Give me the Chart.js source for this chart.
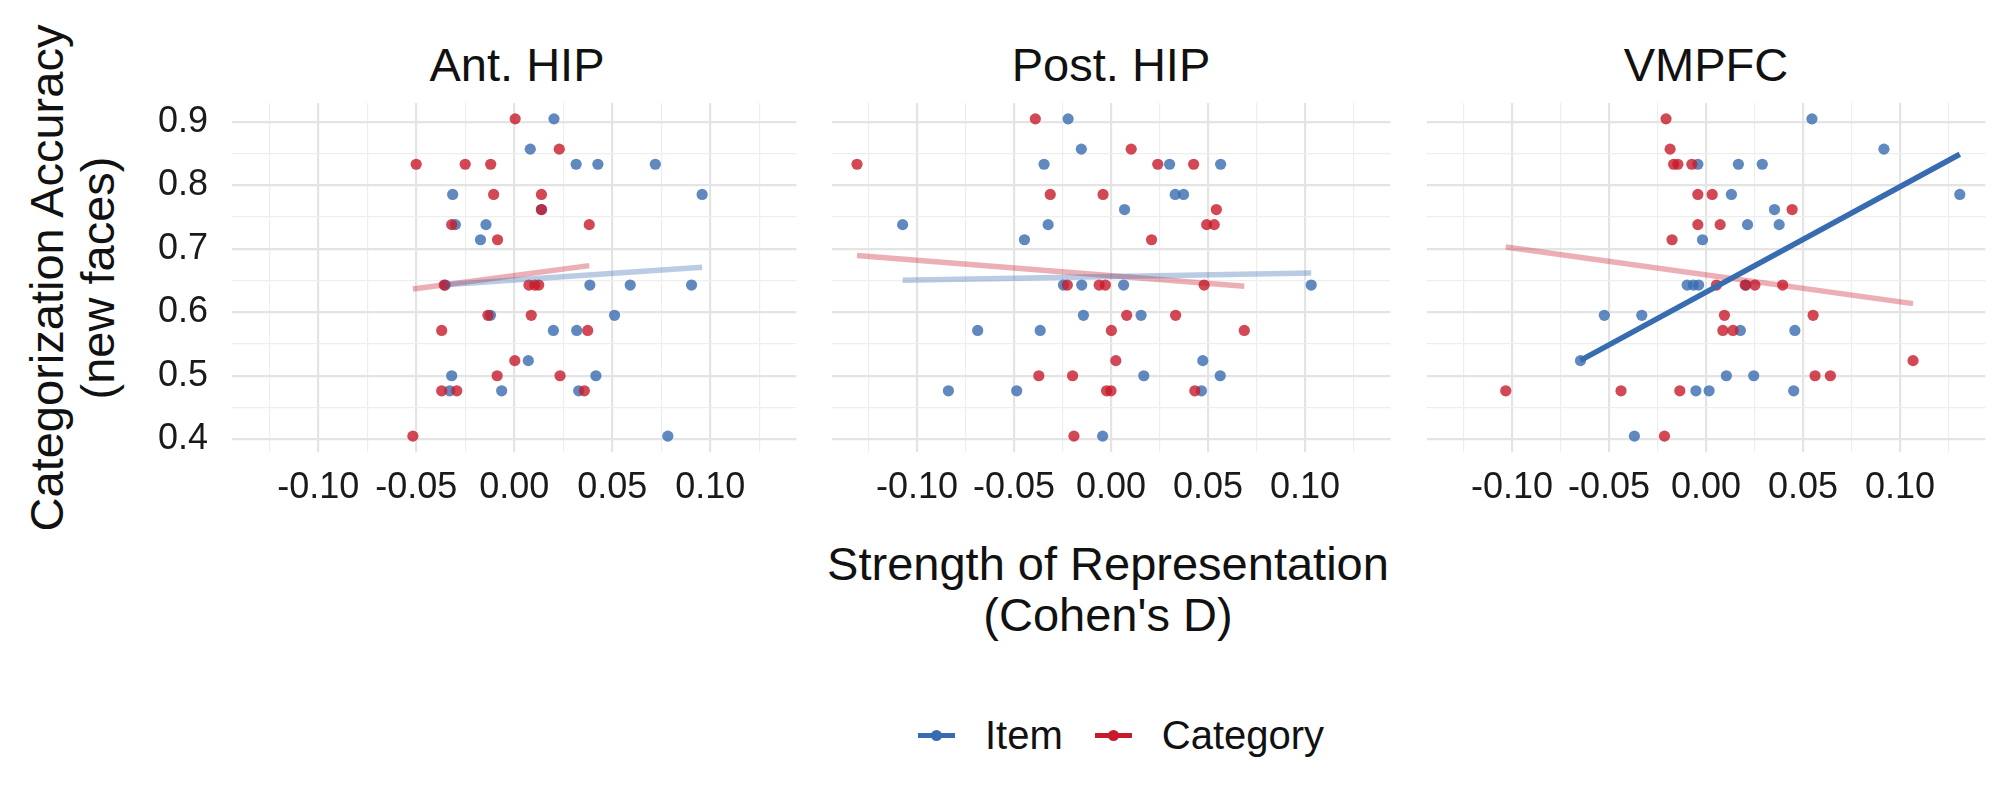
<!DOCTYPE html>
<html>
<head>
<meta charset="utf-8">
<title>Strength of Representation vs Categorization Accuracy</title>
<script src="https://cdn.jsdelivr.net/npm/chart.js@4.4.1/dist/chart.umd.min.js"></script>
<style>
  html, body { margin: 0; padding: 0; background: #fff; }
  body {
    width: 2016px; height: 806px; position: relative; overflow: hidden;
    font-family: 'Liberation Sans', Arial, sans-serif; color: #111;
  }
  canvas.panel { position: absolute; top: 0; }
  .strip {
    position: absolute; top: 41px; width: 400px; margin-left: -200px;
    text-align: center; font-size: 47px; line-height: 47px;
  }
  .x-title {
    position: absolute; left: 1108px; top: 538px; width: 800px; margin-left: -400px;
    text-align: center; font-size: 47px; line-height: 51px;
  }
  .y-title {
    position: absolute; left: 72px; top: 277.5px; width: 700px;
    text-align: center; font-size: 47px; line-height: 51px;
    transform: translate(-50%, -50%) rotate(-90deg);
  }
  .legend {
    position: absolute; left: 918px; top: 711px; height: 48px;
    display: flex; align-items: center; font-size: 40px; line-height: 48px;
  }
  .key { position: relative; width: 37px; height: 5px; margin-right: 30px; }
  .key i {
    position: absolute; left: 13px; top: -3px; width: 11px; height: 11px; border-radius: 50%;
  }
  .legend span.gap { margin-right: 32px; }
</style>
</head>
<body>

<div class="y-title">Categorization Accuracy<br>(new faces)</div>
<div class="x-title">Strength of Representation<br>(Cohen's D)</div>
<div class="legend">
  <div class="key" style="background:#386CB0"><i style="background:#386CB0"></i></div>
  <span class="gap">Item</span>
  <div class="key" style="background:#C71A2B"><i style="background:#C71A2B"></i></div>
  <span>Category</span>
</div>

<script>
// facet titles
const panelTitles = ['Ant. HIP', 'Post. HIP', 'VMPFC'];

// accuracy per subject (same subjects in every panel)
const accuracy = [
  0.9048, 0.8571, 0.8333, 0.8333, 0.8333, 0.7857, 0.7857, 0.7619, 0.7381, 0.7381,
  0.7143, 0.6429, 0.6429, 0.6429, 0.6429, 0.5952, 0.5952, 0.5714, 0.5714, 0.5238,
  0.5000, 0.5000, 0.4762, 0.4762, 0.4762, 0.4048
];

// Cohen's D, Ant. HIP
const antItem = [
  0.0203, 0.0082, 0.0316, 0.0427, 0.0720, -0.0314, 0.0959, 0.0139, -0.0300, -0.0144,
  -0.0172, -0.0352, 0.0386, 0.0592, 0.0905, -0.0121, 0.0512, 0.0200, 0.0319, 0.0072,
  -0.0319, 0.0417, -0.0329, -0.0064, 0.0329, 0.0784
];
const antCategory = [
  0.0005, 0.0230, -0.0500, -0.0250, -0.0120, -0.0105, 0.0139, 0.0139, -0.0319, 0.0383,
  -0.0085, -0.0357, 0.0075, 0.0105, 0.0125, -0.0134, 0.0087, -0.0370, 0.0375, 0.0003,
  -0.0087, 0.0234, -0.0370, -0.0293, 0.0358, -0.0517
];

// Cohen's D, Post. HIP
const postItem = [
  -0.0221, -0.0153, -0.0345, 0.0302, 0.0565, 0.0331, 0.0374, 0.0070, -0.1074, -0.0324,
  -0.0446, -0.0245, -0.0151, 0.0065, 0.1032, -0.0142, 0.0155, -0.0687, -0.0365, 0.0473,
  0.0169, 0.0563, -0.0838, -0.0486, 0.0466, -0.0043
];
const postCategory = [
  -0.0390, 0.0104, -0.1309, 0.0241, 0.0426, -0.0313, -0.0041, 0.0543, 0.0493, 0.0532,
  0.0209, -0.0225, -0.0061, -0.0029, 0.0480, 0.0081, 0.0333, 0.0002, 0.0687, 0.0025,
  -0.0372, -0.0198, -0.0023, 0.0000, 0.0432, -0.0191
];

// Cohen's D, VMPFC
const vmpfcItem = [
  0.0546, 0.0917, -0.0042, 0.0167, 0.0290, 0.0131, 0.1308, 0.0353, 0.0214, 0.0377,
  -0.0018, -0.0097, -0.0065, -0.0038, 0.0206, -0.0524, -0.0331, 0.0177, 0.0458, -0.0647,
  0.0105, 0.0246, -0.0052, 0.0016, 0.0452, -0.0369
];
const vmpfcCategory = [
  -0.0206, -0.0185, -0.0167, -0.0145, -0.0073, -0.0042, 0.0032, 0.0444, -0.0042, 0.0073,
  -0.0175, 0.0054, 0.0202, 0.0252, 0.0395, 0.0095, 0.0552, 0.0087, 0.0139, 0.1067,
  0.0562, 0.0641, -0.1032, -0.0438, -0.0135, -0.0214
];

// fitted line ends (accuracy at min / max x of each series)
const itemFits = [[0.6435, 0.6710], [0.6503, 0.6619], [0.5241, 0.8490]];
const categoryFits = [[0.6366, 0.6735], [0.6893, 0.6409], [0.7029, 0.6136]];
const itemSignificant = [false, false, true];
const categorySignificant = [false, false, false];

// ticks
const xTicks = [-0.125, -0.1, -0.075, -0.05, -0.025, 0, 0.025, 0.05, 0.075, 0.1, 0.125];
const xTickLabels = ['', '-0.10', '', '-0.05', '', '0.00', '', '0.05', '', '0.10', ''];
const yTicks = [0.4, 0.45, 0.5, 0.55, 0.6, 0.65, 0.7, 0.75, 0.8, 0.85, 0.9];
const yTickLabels = ['0.4', '', '0.5', '', '0.6', '', '0.7', '', '0.8', '', '0.9'];

const itemX = [antItem, postItem, vmpfcItem];
const categoryX = [antCategory, postCategory, vmpfcCategory];

// layout
const PANEL_LEFT = [232, 826, 1421];
const PANEL_W = 570;
const PLOT_TOP = 103;
const PLOT_BOTTOM = 452;
const CANVAS_H = 540;
const X_AXIS_H = 60;
const Y_AXIS_W = 232;
const X_MIN = -0.144, X_MAX = 0.144;
const Y_MIN = 0.3798, Y_MAX = 0.9298;

const BLUE = '56, 108, 176';
const RED = '199, 26, 43';
const FONT = "'Liberation Sans', Arial, sans-serif";

const FacetChart = {
  init() {
    panelTitles.forEach((title, i) => this.drawPanel(i));
  },

  toPoints(xs) {
    return xs.map((x, i) => ({ x: x, y: accuracy[i] }));
  },

  fitLine(xs, ends) {
    return [
      { x: Math.min(...xs), y: ends[0] },
      { x: Math.max(...xs), y: ends[1] }
    ];
  },

  fitDataset(xs, ends, rgb, solid) {
    return {
      data: this.fitLine(xs, ends),
      showLine: true,
      borderColor: solid ? `rgb(${rgb})` : `rgba(${rgb}, 0.35)`,
      borderWidth: 5.5,
      borderCapStyle: 'butt',
      pointRadius: 0,
      order: solid ? 0 : 1
    };
  },

  pointDataset(xs, rgb, order) {
    return {
      data: this.toPoints(xs),
      showLine: false,
      pointRadius: 5.6,
      pointBorderWidth: 0,
      pointBackgroundColor: `rgba(${rgb}, 0.8)`,
      order: order
    };
  },

  drawPanel(i) {
    const yW = i === 0 ? Y_AXIS_W : 0;
    const left = PANEL_LEFT[i] - yW;

    // strip title
    const strip = document.createElement('div');
    strip.className = 'strip';
    strip.style.left = (PANEL_LEFT[i] + PANEL_W / 2) + 'px';
    strip.textContent = panelTitles[i];
    document.body.appendChild(strip);

    const canvas = document.createElement('canvas');
    canvas.className = 'panel';
    canvas.width = yW + PANEL_W;
    canvas.height = CANVAS_H;
    canvas.style.left = left + 'px';
    document.body.appendChild(canvas);

    const gridColor = (labels) => (ctx) => labels[ctx.index] ? '#E4E4E4' : '#EEEEEE';
    const gridWidth = (labels) => (ctx) => labels[ctx.index] ? 2.2 : 1.2;

    new Chart(canvas, {
      type: 'scatter',
      data: {
        datasets: [
          this.fitDataset(itemX[i], itemFits[i], BLUE, itemSignificant[i]),
          this.fitDataset(categoryX[i], categoryFits[i], RED, categorySignificant[i]),
          this.pointDataset(categoryX[i], RED, 2),
          this.pointDataset(itemX[i], BLUE, 3)
        ]
      },
      options: {
        responsive: false,
        animation: false,
        devicePixelRatio: 1,
        layout: {
          padding: { top: PLOT_TOP, bottom: CANVAS_H - PLOT_BOTTOM - X_AXIS_H, left: 0, right: 0 }
        },
        plugins: {
          legend: { display: false },
          tooltip: { enabled: false }
        },
        scales: {
          x: {
            type: 'linear',
            bounds: 'data',
            min: X_MIN,
            max: X_MAX,
            afterBuildTicks: (scale) => { scale.ticks = xTicks.map(v => ({ value: v })); },
            afterFit: (scale) => { scale.height = X_AXIS_H; },
            border: { display: false },
            grid: { drawTicks: false, color: gridColor(xTickLabels), lineWidth: gridWidth(xTickLabels) },
            ticks: {
              autoSkip: false,
              maxRotation: 0,
              minRotation: 0,
              padding: 14,
              color: '#1a1a1a',
              font: { family: FONT, size: 36 },
              callback: (value, index) => xTickLabels[index]
            }
          },
          y: {
            type: 'linear',
            bounds: 'data',
            min: Y_MIN,
            max: Y_MAX,
            afterBuildTicks: (scale) => { scale.ticks = yTicks.map(v => ({ value: v })); },
            afterFit: (scale) => { scale.width = yW; },
            border: { display: false },
            grid: { drawTicks: false, color: gridColor(yTickLabels), lineWidth: gridWidth(yTickLabels) },
            ticks: {
              display: i === 0,
              autoSkip: false,
              padding: 24,
              color: '#1a1a1a',
              font: { family: FONT, size: 36 },
              callback: (value, index) => yTickLabels[index]
            }
          }
        }
      }
    });
  }
};

document.addEventListener('DOMContentLoaded', () => {
  FacetChart.init();
});
</script>
</body>
</html>
